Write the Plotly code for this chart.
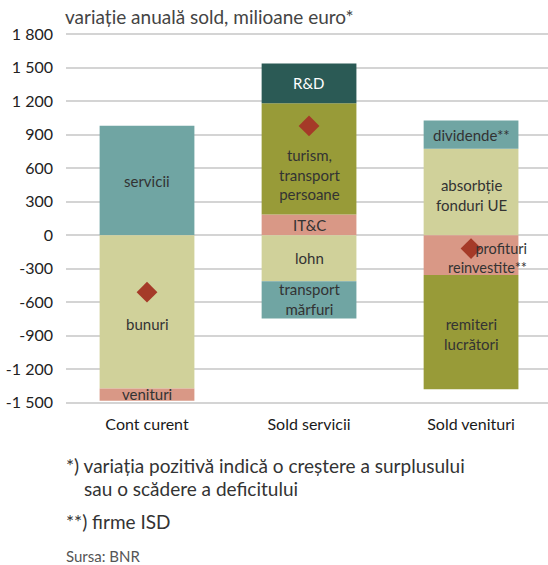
import plotly.graph_objects as go

# ---------------- data ----------------
categories = ["Cont curent", "Sold servicii", "Sold venituri"]

cc_names = ["servicii", "bunuri", "venituri"]
cc_values = [980, -1372, -110]

ss_names = ["IT&C", "turism,<br>transport<br>persoane", "R&D", "lohn", "transport<br>mărfuri"]
ss_values = [185, 997, 357, -411, -335]

sv_names = ["absorbție<br>fonduri UE", "dividende**", "profituri<br>reinvestite**", "remiteri<br>lucrători"]
sv_values = [774, 253, -357, -1022]

net_values = [-510, 979, -119]

y_tickvals = [-1500, -1200, -900, -600, -300, 0, 300, 600, 900, 1200, 1500, 1800]
y_ticktext = ["-1 500", "-1 200", "-900", "-600", "-300", "0", "300", "600", "900", "1 200", "1 500", "1 800"]

# ---------------- styles ----------------
TEAL = "#70a5a3"
PALE = "#d0d19a"
SALMON = "#d99886"
OLIVE = "#989b38"
DARK = "#2b5a55"
DIAMOND = "#a53a28"
LAB = "Lato, Roboto, sans-serif"
REG = "Lato, Open Sans, sans-serif"

cc_colors = [TEAL, PALE, SALMON]
ss_colors = [SALMON, OLIVE, DARK, PALE, TEAL]
sv_colors = [PALE, TEAL, SALMON, OLIVE]

cc_font = ["#333333"] * 3
ss_font = ["#333333", "#333333", "#ffffff", "#333333", "#333333"]
sv_font = ["#333333"] * 4

# label pixel adjustments (yshift, xshift, xanchor, size)
cc_adj = [(0, 0, "center", 15), (-12, 0, "center", 15), (1, 0, "center", 15)]
ss_adj = [(0, 0, "center", 15), (-16, 0, "center", 15), (0, 0, "center", 15),
          (0, 0, "center", 15), (1, 0, "center", 15)]
sv_adj = [(-3, 0, "center", 15), (0, 0, "center", 15), (-3, 58, "right", 14.5), (-2, 0, "center", 15)]

fig = go.Figure()
annotations = []

groups = [
    (categories[0], cc_names, cc_values, cc_colors, cc_font, cc_adj),
    (categories[1], ss_names, ss_values, ss_colors, ss_font, ss_adj),
    (categories[2], sv_names, sv_values, sv_colors, sv_font, sv_adj),
]

for cat, names, vals, cols, fcols, adjs in groups:
    pos_base = 0
    neg_base = 0
    for name, v, c, fc, adj in zip(names, vals, cols, fcols, adjs):
        fig.add_trace(go.Bar(
            x=[cat], y=[v], marker=dict(color=c, line=dict(width=0)),
            width=0.585, showlegend=False, hoverinfo="skip", name=name,
        ))
        if v >= 0:
            mid = pos_base + v / 2
            pos_base += v
        else:
            mid = neg_base + v / 2
            neg_base += v
        annotations.append(dict(
            x=cat, y=mid, xref="x", yref="y", text=name, showarrow=False,
            font=dict(family=LAB, size=adj[3], color=fc),
            yshift=adj[0], xshift=adj[1], xanchor=adj[2],
            align="right" if adj[2] == "right" else "center",
        ))

fig.add_trace(go.Scatter(
    x=categories, y=net_values, mode="markers",
    marker=dict(symbol="diamond", size=16, color=DIAMOND),
    showlegend=False, hoverinfo="skip",
))

pl, pr, pt, pb = 66, 0, 32, 160
W, H = 548, 565
pw, ph = W - pl - pr, H - pt - pb

fig.update_layout(
    width=W, height=H,
    margin=dict(l=pl, r=pr, t=pt, b=pb),
    paper_bgcolor="white", plot_bgcolor="white",
    barmode="relative",
    xaxis=dict(
        range=[-0.5, 2.475], showgrid=False, zeroline=False, showline=False,
        tickfont=dict(family=LAB, size=16, color="#1a1a1a"), ticks="",
        ticklabelstandoff=8,
    ),
    yaxis=dict(
        range=[-1520, 1820], tickvals=y_tickvals, ticktext=y_ticktext,
        showgrid=True, gridcolor="#d4d4d4", gridwidth=2,
        zeroline=True, zerolinecolor="#d4d4d4", zerolinewidth=2,
        showline=False, ticks="",
        tickfont=dict(family=LAB, size=16, color="#222222"),
        ticklabelstandoff=12,
    ),
    font=dict(family=REG),
)


def ptxt(text, x_px, y_px, size, color):
    return dict(
        x=(x_px - pl) / pw, y=(H - pb - y_px) / ph, xref="paper", yref="paper",
        text=text, showarrow=False, xanchor="left", yanchor="middle",
        font=dict(family=REG, size=size, color=color), align="left",
    )


annotations += [
    ptxt("variație anuală sold, milioane euro*", 63, 17, 19, "#444444"),
    ptxt("*) variația pozitivă indică o creștere a surplusului", 64, 465, 19, "#333333"),
    ptxt("sau o scădere a deficitului", 82, 488, 19, "#333333"),
    ptxt("**) firme ISD", 64, 521, 19, "#333333"),
    ptxt("Sursa: BNR", 64, 556, 15, "#555555"),
]

fig.update_layout(annotations=annotations)
fig.write_html(
    "out.html",
    config={"displayModeBar": False, "staticPlot": True},
    post_script="document.body.style.margin='0';document.body.style.padding='0';",
)
